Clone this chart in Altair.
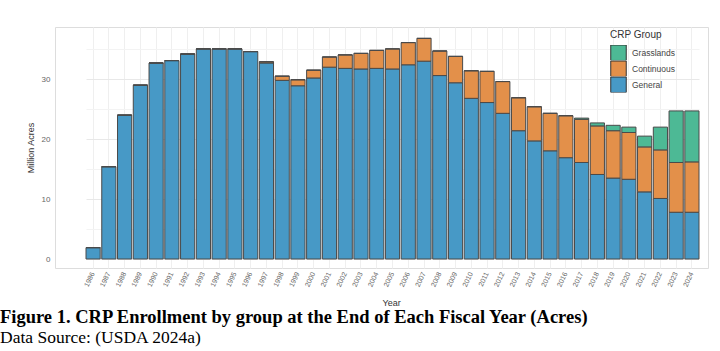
import altair as alt
import pandas as pd

years = [str(y) for y in range(1986, 2025)]
general = [1.9, 15.4, 24.0, 29.0, 32.7, 33.1, 34.2, 35.05, 35.05, 35.05,
           34.6, 32.7, 29.8, 28.9, 30.2, 32.0, 31.8, 31.7, 31.8, 31.7,
           32.4, 33.0, 30.6, 29.4, 26.8, 26.1, 24.3, 21.4, 19.7, 18.05,
           16.9, 16.1, 14.1, 13.5, 13.3, 11.2, 10.1, 7.8, 7.8]
continuous = [0, 0, 0, 0, 0, 0, 0, 0, 0, 0,
              0, 0.2, 0.7, 1.0, 1.3, 1.7, 2.25, 2.6, 3.0, 3.35,
              3.7, 3.8, 4.1, 4.4, 4.6, 5.2, 5.3, 5.5, 5.7, 6.25,
              7.0, 7.2, 8.1, 7.9, 7.8, 7.5, 8.1, 8.3, 8.4]
grasslands = [0, 0, 0, 0, 0, 0, 0, 0, 0, 0,
              0, 0, 0, 0, 0, 0, 0, 0, 0, 0,
              0, 0, 0, 0, 0, 0, 0, 0, 0, 0,
              0, 0.2, 0.5, 0.9, 0.9, 1.8, 3.8, 8.6, 8.5]

groups = ["Grasslands", "Continuous", "General"]
colors = ["#4DB995", "#E3904A", "#4799C6"]

rows = []
for i, y in enumerate(years):
    rows.append({"Year": y, "group": "General", "value": general[i], "ord": 0})
    rows.append({"Year": y, "group": "Continuous", "value": continuous[i], "ord": 1})
    rows.append({"Year": y, "group": "Grasslands", "value": grasslands[i], "ord": 2})
df = pd.DataFrame(rows)

W, H = 653, 241

bars = alt.Chart(df).mark_bar(stroke="#4a4a4a", strokeWidth=1).encode(
    x=alt.X("Year:N", sort=years,
            scale=alt.Scale(range=[31, 644], paddingInner=0.1, paddingOuter=0),
            axis=alt.Axis(title="Year", labelAngle=295, labelAlign="right",
                          labelBaseline="middle", labelFontSize=7,
                          labelColor="#666666", labelPadding=4,
                          ticks=False, domain=False, grid=True,
                          gridColor="#efefef", bandPosition=0.5,
                          titleFontSize=9, titleFontWeight="normal",
                          titleColor="#333333", titleX=327, titleY=37,
                          titleBaseline="alphabetic", titleAnchor="start"
                          )),
    y=alt.Y("value:Q", stack="zero",
            scale=alt.Scale(domain=[-1.5, 38.7], nice=False, zero=False),
            axis=alt.Axis(title="Million Acres",
                          values=[0, 5, 10, 15, 20, 25, 30, 35],
                          labelExpr="datum.value % 10 == 0 ? datum.label : ''",
                          labelFontSize=8, labelColor="#666666",
                          labelPadding=5, ticks=False, domain=False,
                          gridColor={"condition": {"test": "datum.value % 10 == 0",
                                                   "value": "#e8e8e8"},
                                     "value": "#f3f3f3"},
                          titleFontSize=9, titleFontWeight="normal",
                          titleColor="#333333", titlePadding=6)),
    color=alt.Color("group:N",
                    scale=alt.Scale(domain=groups, range=colors),
                    legend=alt.Legend(title="CRP Group", orient="none",
                                      legendX=555, legendY=3,
                                      titleFontSize=10, titleFontWeight="normal",
                                      titleColor="#333333",
                                      labelFontSize=8.5, labelColor="#444444",
                                      symbolType="square", symbolSize=240,
                                      symbolStrokeColor="#333333",
                                      symbolStrokeWidth=1, symbolOpacity=1,
                                      rowPadding=0, clipHeight=15.5,
                                      titlePadding=5, labelOffset=5)),
    order=alt.Order("ord:Q", sort="ascending"),
)

chart = bars.properties(
    width=W, height=H,
    padding={"left": 55, "top": 27, "right": 12, "bottom": 83},
    autosize=alt.AutoSizeParams(type="none"),
    title=alt.TitleParams(
        text="Figure 1. CRP Enrollment by group at the End of Each Fiscal Year (Acres)",
        subtitle="Data Source: (USDA 2024a)",
        orient="bottom", anchor="start", frame="group", dx=-55, offset=1,
        font="Liberation Serif", fontSize=18.5, fontWeight="bold", color="#000000",
        subtitleFont="Liberation Serif", subtitleFontSize=17.5,
        subtitleColor="#000000", subtitlePadding=2,
    ),
).configure_view(stroke=None).configure(font="Liberation Sans", background="white")

chart.save("out.html", embed_options={"renderer": "svg", "actions": False})
